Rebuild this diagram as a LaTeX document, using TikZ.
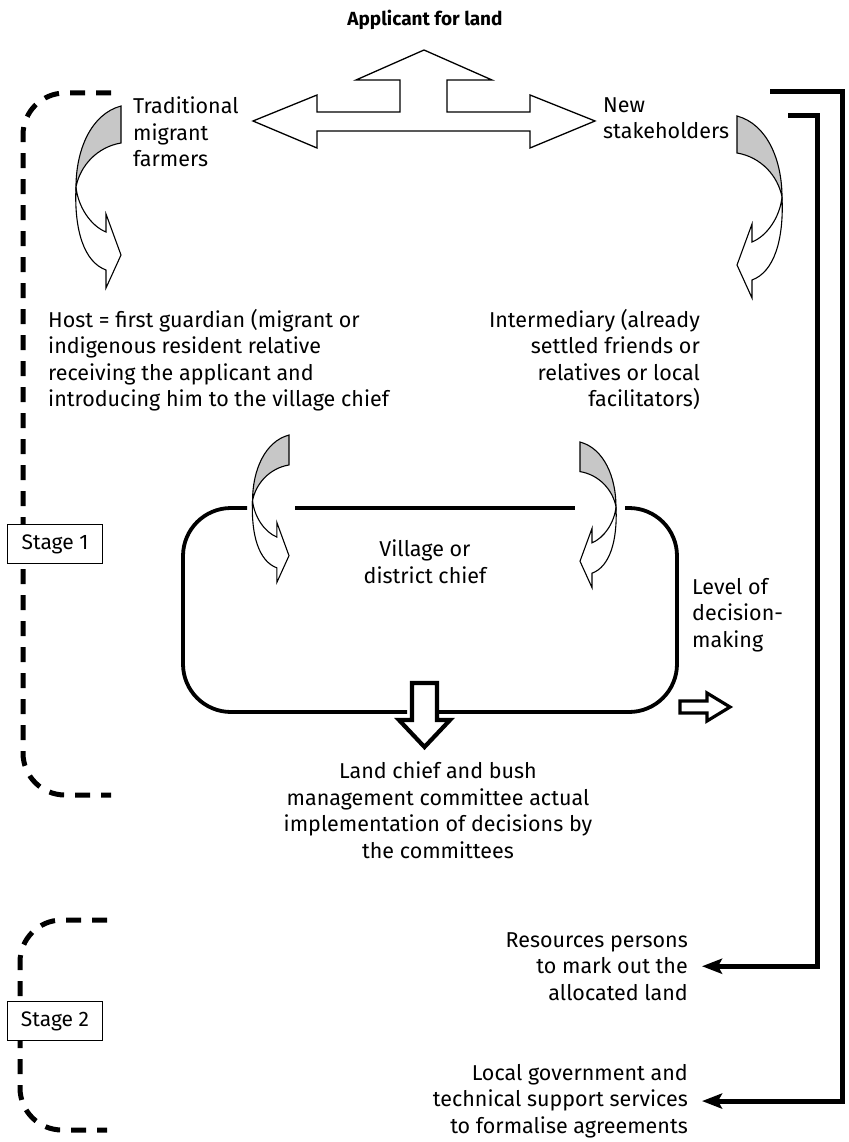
\documentclass[tikz,border=0pt]{standalone}
\usepackage{fontspec}
\setmainfont{Fira Sans}
\usetikzlibrary{arrows.meta}

\begin{document}
\begin{tikzpicture}[x=1pt, y=-1pt,
  txt/.style={inner sep=0pt, font=\fontsize{21.5}{26.5}\selectfont},
  stagebox/.style={draw, line width=1.6pt, fill=white, inner sep=0pt,
    minimum width=95pt, minimum height=39pt, font=\fontsize{21}{24}\selectfont},
  stageline/.style={line width=5pt, dash pattern=on 15pt off 11pt, rounded corners=42pt},
  boxline/.style={line width=3.8pt, rounded corners=48pt},
  fatarrow/.style={draw, fill=white, line width=1.3pt},
  bracket/.style={line width=5pt, -{Stealth[length=20pt, width=15pt, inset=4pt]}},
  bendarrow/.pic={
    \filldraw[fill=black!22, line width=1.1pt] (0,0) .. controls (-30,8) and (-45,44) .. (-45,81)
      .. controls (-41,60) and (-24,41) .. (0,37) -- cycle;
    \filldraw[fill=white, line width=1.1pt] (-45,81) .. controls (-43,101) and (-30,120) .. (-15,126)
      -- (-15,108) -- (0,149) -- (-15,182) -- (-15,164)
      .. controls (-37,156) and (-47,124) .. (-45,81) -- cycle;
  }
]
\useasboundingbox (0,0) rectangle (848,1142);

% stage brackets
\draw[stageline] (111,93) -- (23,93) -- (23,795) -- (111,795);
\draw[stageline] (107,920) -- (20,920) -- (20,1130) -- (107,1130);
\node[stagebox] (stage1) at (55,544) {Stage 1};
\node[stagebox] (stage2) at (55,1021) {Stage 2};

% texts
\node[txt, font=\fontsize{19}{26.5}\selectfont\bfseries] (applicant) at (425,20) {Applicant for land};
\node[txt, anchor=north west, align=left] (trad) at (133,97) {Traditional\\migrant\\farmers};
\node[txt, anchor=north west, align=left] (newsh) at (603,97) {New\\stakeholders};
\node[txt, anchor=north west, align=left] (host) at (48,309)
  {Host = first guardian (migrant or\\indigenous resident relative\\receiving the applicant and\\introducing him to the village chief};
\node[txt, anchor=north east, align=right] (interm) at (700,309)
  {Intermediary (already\\settled friends or\\relatives or local\\facilitators)};
\node[txt, anchor=north, align=center] (village) at (425,540) {Village or\\district chief};
\node[txt, anchor=north west, align=left] (level) at (692,578) {Level of\\decision-\\making};
\node[txt, anchor=north, align=center] (landchief) at (438,762)
  {Land chief and bush\\management committee actual\\implementation of decisions by\\the committees};
\node[txt, anchor=north east, align=right] (resources) at (688,932)
  {Resources persons\\to mark out the\\allocated land};
\node[txt, anchor=north east, align=right] (localgov) at (688,1064)
  {Local government and\\technical support services\\to formalise agreements};

% three way arrow
\draw[fatarrow] (253,121) -- (317,95) -- (317,112) -- (400,112) -- (400,80) -- (356,80)
  -- (424,50) -- (492,80) -- (447,80) -- (447,112) -- (530,112) -- (530,95) -- (595,121)
  -- (530,148) -- (530,131) -- (317,131) -- (317,148) -- cycle;

% curved arrows
\pic at (121,106) {bendarrow};
\pic[xscale=-1] at (737,116) {bendarrow};
\pic[scale=0.81] at (289,435) {bendarrow};
\pic[xscale=-0.8, yscale=0.8] at (580,442) {bendarrow};

% decision box
\draw[boxline] (407,712) -| (183,508) -- (247,508);
\draw[boxline] (438,712) -| (677,508) -- (625,508);
\draw[boxline] (295,508) -- (575,508);
\draw[line width=4.2pt, fill=white] (412,683) -- (437,683) -- (437,720) -- (450,720)
  -- (424.5,747) -- (399,720) -- (412,720) -- cycle;
\draw[line width=3.2pt, fill=white] (680,701) -- (707,701) -- (707,693) -- (730,707)
  -- (707,721) -- (707,713) -- (680,713) -- cycle;

% right brackets
\coordinate (outtop) at (770,92);
\coordinate (intop) at (788,116);
\draw[bracket] (outtop) -- (842,92) |- ([xshift=14pt]localgov.east);
\draw[bracket] (intop) -- (817,116) |- ([xshift=14pt]resources.east);
\end{tikzpicture}
\end{document}
